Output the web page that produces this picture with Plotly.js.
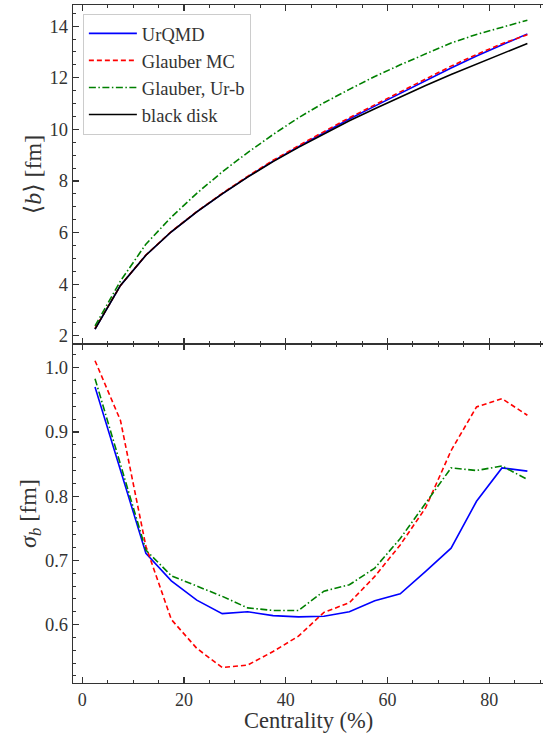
<!DOCTYPE html>
<html>
<head>
<meta charset="utf-8">
<script src="https://cdn.plot.ly/plotly-3.0.1.min.js"></script>
<style>html,body{margin:0;padding:0;background:#fff;}#chart{width:543px;height:733px;}</style>
</head>
<body>
<div id="chart"></div>
<script>
// Centrality bin centres (%)
const centrality = [2.5, 7.5, 12.5, 17.5, 22.5, 27.5, 32.5, 37.5, 42.5, 47.5, 52.5, 57.5, 62.5, 67.5, 72.5, 77.5, 82.5, 87.5];

// Top panel: mean impact parameter <b> [fm]
const bUrQMD     = [2.26, 3.95, 5.12, 6.03, 6.80, 7.50, 8.16, 8.77, 9.33, 9.87, 10.40, 10.90, 11.40, 11.90, 12.38, 12.84, 13.28, 13.70];
const bGlauberMC = [2.28, 3.95, 5.13, 6.04, 6.81, 7.52, 8.18, 8.80, 9.37, 9.92, 10.45, 10.95, 11.46, 11.96, 12.45, 12.90, 13.32, 13.67];
const bGlauberUrb= [2.38, 4.12, 5.55, 6.60, 7.52, 8.35, 9.10, 9.80, 10.45, 11.03, 11.55, 12.05, 12.50, 12.92, 13.35, 13.68, 13.97, 14.23];
const bBlackDisk = [2.26, 3.95, 5.12, 6.03, 6.80, 7.50, 8.15, 8.75, 9.30, 9.83, 10.33, 10.80, 11.26, 11.70, 12.13, 12.54, 12.94, 13.33];

// Bottom panel: width sigma_b [fm]
const sUrQMD     = [0.970, 0.840, 0.711, 0.668, 0.638, 0.617, 0.620, 0.614, 0.612, 0.613, 0.620, 0.637, 0.648, 0.683, 0.719, 0.792, 0.844, 0.839];
const sGlauberMC = [1.011, 0.918, 0.722, 0.608, 0.563, 0.533, 0.537, 0.558, 0.582, 0.619, 0.634, 0.675, 0.724, 0.782, 0.871, 0.939, 0.952, 0.926];
const sGlauberUrb= [0.983, 0.848, 0.716, 0.676, 0.660, 0.644, 0.626, 0.622, 0.622, 0.652, 0.662, 0.688, 0.734, 0.790, 0.844, 0.840, 0.847, 0.826];

const names = ['UrQMD', 'Glauber MC', 'Glauber, Ur-b', 'black disk'];
const xTickVals = [0, 20, 40, 60, 80];
const yTopTicks = [2, 4, 6, 8, 10, 12, 14];
const yBotTicks = [0.6, 0.7, 0.8, 0.9, 1.0];
const yBotTickText = ['0.6', '0.7', '0.8', '0.9', '1.0'];
const xTitle = 'Centrality (%)';

const FONT = 'Liberation Serif, DejaVu Serif, serif';
const styles = [
  {color: '#0000ff', dash: 'solid'},
  {color: '#ff0000', dash: '5px,3px'},
  {color: '#008000', dash: '7px,2.5px,1.5px,2.5px'},
  {color: '#000000', dash: 'solid'}
];

const topData = [bUrQMD, bGlauberMC, bGlauberUrb, bBlackDisk];
const botData = [sUrQMD, sGlauberMC, sGlauberUrb];

const traces = [];
topData.forEach((ys, i) => {
  traces.push({x: centrality, y: ys, xaxis: 'x2', yaxis: 'y2', mode: 'lines', name: names[i],
    line: {color: styles[i].color, dash: styles[i].dash, width: 1.6}, showlegend: true});
});
botData.forEach((ys, i) => {
  traces.push({x: centrality, y: ys, xaxis: 'x', yaxis: 'y', mode: 'lines', name: names[i],
    line: {color: styles[i].color, dash: styles[i].dash, width: 1.6}, showlegend: false});
});

const axCommon = {
  showline: true, linecolor: '#333', linewidth: 1.3, mirror: 'ticks',
  ticks: 'inside', ticklen: 6, tickwidth: 1.2, tickcolor: '#333',
  showgrid: false, zeroline: false,
  tickfont: {family: FONT, size: 18.5, color: '#333'}
};

const layout = {
  width: 543, height: 733,
  margin: {l: 73, r: 0, t: 5, b: 50},
  paper_bgcolor: '#fff', plot_bgcolor: '#fff',
  font: {family: FONT, color: '#333'},
  showlegend: true,
  legend: {x: 0.021, y: 0.987, xanchor: 'left', yanchor: 'top',
    bgcolor: 'rgba(255,255,255,0.9)', bordercolor: '#cccccc', borderwidth: 1,
    font: {family: FONT, size: 18.5, color: '#333'}, itemwidth: 48, tracegroupgap: 0},
  annotations: [{
    text: xTitle, xref: 'paper', yref: 'paper', x: 0.5, y: -0.0557,
    xanchor: 'center', yanchor: 'middle', showarrow: false,
    font: {family: FONT, size: 22.5, color: '#333'}
  }],
  xaxis: Object.assign({}, axCommon, {
    domain: [0, 1], anchor: 'y', range: [-1.83, 90.57],
    tickvals: xTickVals, tickfont: {family: FONT, size: 18, color: '#333'},
    minor: {ticks: 'inside', dtick: 5, tick0: 0, ticklen: 3, tickwidth: 1, tickcolor: '#333'}
  }),
  yaxis: Object.assign({}, axCommon, {
    domain: [0, 0.5], anchor: 'x', range: [0.509, 1.037], mirror: false,
    tickvals: yBotTicks, ticktext: yBotTickText,
    minor: {ticks: 'inside', dtick: 0.02, tick0: 0.5, ticklen: 3, tickwidth: 1, tickcolor: '#333'},
    title: {text: '<i>σ</i><sub><i>b</i></sub> [fm]', font: {family: FONT, size: 24, color: '#333'}, standoff: 1}
  }),
  xaxis2: Object.assign({}, axCommon, {
    domain: [0, 1], anchor: 'y2', range: [-1.83, 90.57], matches: 'x',
    tickvals: xTickVals, showticklabels: false,
    minor: {ticks: 'inside', dtick: 5, tick0: 0, ticklen: 3, tickwidth: 1, tickcolor: '#333'}
  }),
  yaxis2: Object.assign({}, axCommon, {
    domain: [0.5, 1], anchor: 'x2', range: [1.68, 14.82], mirror: false,
    tickvals: yTopTicks,
    minor: {ticks: 'inside', dtick: 0.5, tick0: 0, ticklen: 3, tickwidth: 1, tickcolor: '#333'},
    title: {text: '⟨<i>b</i>⟩ [fm]', font: {family: FONT, size: 24, color: '#333'}, standoff: 1}
  })
};

Plotly.newPlot('chart', traces, layout, {displayModeBar: false, staticPlot: true});
</script>
</body>
</html>
